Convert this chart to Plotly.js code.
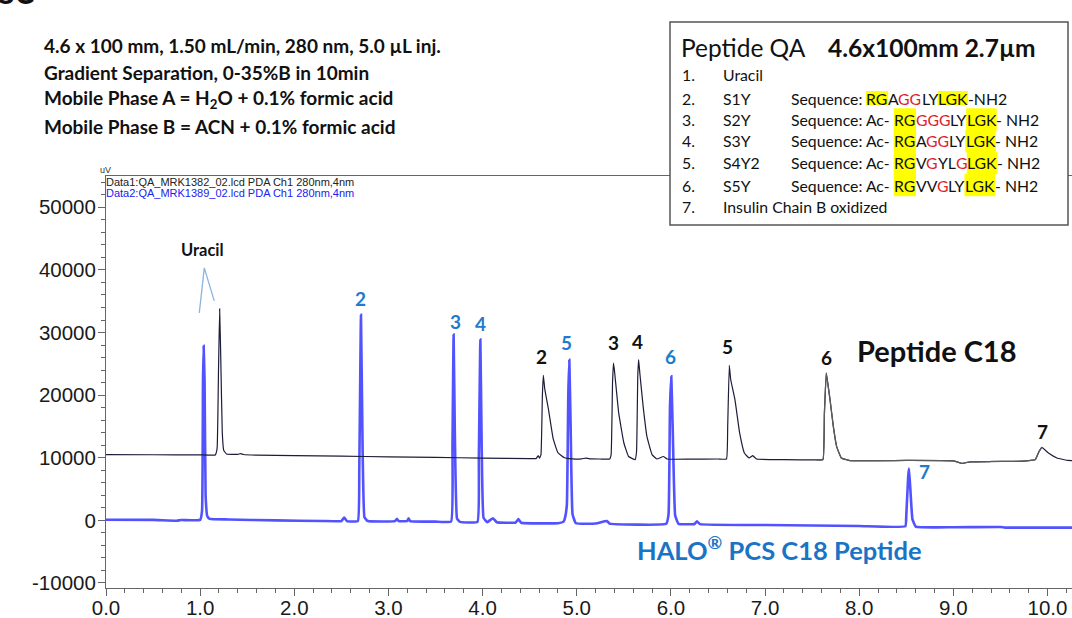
<!DOCTYPE html>
<html>
<head>
<meta charset="utf-8">
<script src="https://cdn.plot.ly/plotly-3.0.1.min.js"></script>
<style>
html,body{margin:0;padding:0;background:#fff;}
#chart{width:1072px;height:618px;}
</style>
</head>
<body>
<div id="chart"></div>
<script>
// ---------------- DATA ----------------
// Peptide C18 chromatogram (Data1), time in min, signal in uV
const c18Time = [0.00,0.50,1.00,1.16,1.18,1.195,1.207,1.22,1.235,1.25,1.28,1.40,1.43,1.46,1.60,2.00,2.50,3.00,3.50,4.00,4.50,4.57,4.59,4.605,4.62,4.635,4.645,4.66,4.70,4.75,4.80,4.87,4.95,5.05,5.10,5.15,5.25,5.35,5.365,5.38,5.39,5.40,5.445,5.50,5.55,5.62,5.635,5.648,5.657,5.67,5.705,5.745,5.80,5.85,5.92,5.96,6.20,6.50,6.59,6.603,6.62,6.635,6.68,6.73,6.78,6.83,6.87,6.91,7.20,7.55,7.615,7.63,7.65,7.665,7.69,7.725,7.76,7.81,7.90,8.50,9.00,9.09,9.18,9.40,9.64,9.80,9.87,9.91,9.94,10.01,10.10,10.21,10.26];
const c18Signal = [10500,10480,10460,10450,11500,24000,33800,25000,14000,11200,10600,10550,10650,10520,10420,10350,10250,10150,10050,9950,9870,9880,10350,9950,10500,20000,23160,21000,17700,13000,10800,10000,9820,9830,9950,9820,9800,9800,10500,22000,25130,24000,17200,12400,10200,9700,11000,23000,25660,23500,18200,13400,10500,9800,10200,9800,9780,9800,9800,15000,24750,22500,19280,13960,10760,9970,10330,9800,9700,9650,9700,17000,23540,22000,19280,15010,11820,9970,9550,9570,9500,9100,9350,9400,9420,9550,9700,11000,11660,10760,9970,9580,9550];

// HALO PCS C18 Peptide chromatogram (Data2)
const haloTime = [0.00,0.50,0.75,0.80,1.00,1.02,1.03,1.037,1.047,1.058,1.075,1.10,1.30,1.80,2.30,2.50,2.53,2.56,2.675,2.69,2.708,2.725,2.745,2.78,3.07,3.09,3.11,3.20,3.214,3.23,3.50,3.665,3.68,3.692,3.705,3.728,3.76,3.945,3.96,3.976,3.99,4.01,4.05,4.11,4.15,4.35,4.38,4.41,4.80,4.86,4.875,4.895,4.91,4.921,4.935,4.955,4.99,5.20,5.32,5.35,5.95,5.975,5.99,6.004,6.02,6.045,6.08,6.25,6.277,6.31,7.00,8.00,8.49,8.50,8.52,8.529,8.545,8.565,8.60,9.00,9.50,9.55,10.00,10.26];
const haloSignal = [100,80,-50,50,80,1500,22000,27900,22000,4000,700,250,150,0,-100,-100,450,-120,-120,8000,32850,12000,500,-100,-120,250,-130,-100,350,-120,-200,-200,12000,29660,14000,300,-250,-250,10000,28860,12000,400,-280,350,-300,-350,200,-380,-450,-200,400,2500,20000,25660,15000,1000,-450,-500,-100,-520,-550,1000,18000,23000,14000,800,-550,-580,-150,-600,-750,-900,-950,800,7000,8260,4500,200,-1000,-1100,-1050,-1150,-1150,-1150];

// Peak labels
const haloPeakNames = ['2','3','4','5','6','7'];
const haloPeakTime  = [2.70,3.71,3.975,4.89,6.00,8.69];
const haloPeakLabelY = [35400,31700,31400,28400,26100,7780];
const c18PeakNames = ['2','3','4','5','6','7'];
const c18PeakTime  = [4.63,5.39,5.65,6.60,7.65,9.95];
const c18PeakLabelY = [26100,28400,28500,27700,26000,14150];

// Axis ticks
const yTickVals = [-10000,0,10000,20000,30000,40000,50000];
const yTickText = ['-10000','0','10000','20000','30000','40000','50000'];

// Condition text lines
const conditionLines = [
  '4.6 x 100 mm, 1.50 mL/min, 280 nm, 5.0 µL inj.',
  'Gradient Separation, 0-35%B in 10min',
  'Mobile Phase A = H<sub>2</sub>O + 0.1% formic acid',
  'Mobile Phase B = ACN + 0.1% formic acid'
];

// Legend-box content
const legendNums  = ['1.','2.','3.','4.','5.','6.','7.'];
const legendNames = ['Uracil','S1Y','S2Y','S3Y','S4Y2','S5Y','Insulin Chain B oxidized'];
// sequence segments: [text, style] style: 'k' plain, 'r' red, 'h' highlighted
const legendSeqs = [
  null,
  [['Sequence: ','k'],['RG','h'],['A','k'],['GG','r'],['LY','k'],['LGK','h'],['-NH2','k']],
  [['Sequence: Ac- ','k'],['RG','h'],['GGG','r'],['LY','k'],['LGK','h'],['- NH2','k']],
  [['Sequence: Ac- ','k'],['RG','h'],['A','k'],['GG','r'],['LY','k'],['LGK','h'],['- NH2','k']],
  [['Sequence: Ac- ','k'],['RG','h'],['V','k'],['G','r'],['YL','k'],['G','r'],['LGK','h'],['- NH2','k']],
  [['Sequence: Ac- ','k'],['RG','h'],['VV','k'],['G','r'],['LY','k'],['LGK','h'],['- NH2','k']],
  null
];

// ---------------- LAYOUT HELPERS ----------------
const W = 1072, H = 618;
const M = {l:106, r:0, t:176, b:30};
const PW = W - M.l - M.r, PH = H - M.t - M.b;
const px = p => (p - M.l) / PW;
const py = p => (H - M.b - p) / PH;

const SANS = 'Lato, "Open Sans", sans-serif';
const ARIAL = '"Liberation Sans", Arial, sans-serif';
const BLUE_TXT = '#1f7bcc';

const ctx = document.createElement('canvas').getContext('2d');
function textW(t, size, weight){ ctx.font = (weight||'normal') + ' ' + size + 'px Lato'; return ctx.measureText(t).width; }

const annotations = [];
const shapes = [];

// truncated slide title
annotations.push({xref:'paper',yref:'paper',x:px(-4),y:py(14),xanchor:'left',yanchor:'bottom',showarrow:false,
  text:'<b>se</b>',font:{family:SANS,size:38,color:'#111'}});

// condition lines
const condY = [46,72.5,99,126];
conditionLines.forEach((t,i)=>{
  annotations.push({xref:'paper',yref:'paper',x:px(42),y:py(condY[i]),xanchor:'left',yanchor:'middle',showarrow:false,
    text:'<b>'+t+'</b>',font:{family:SANS,size:19,color:'#111'}});
});

// data file labels
annotations.push({xref:'paper',yref:'paper',x:px(98),y:py(170),xanchor:'left',yanchor:'middle',showarrow:false,
  text:'uV',font:{family:ARIAL,size:9,color:'#333'}});
annotations.push({xref:'paper',yref:'paper',x:px(104),y:py(181.5),xanchor:'left',yanchor:'middle',showarrow:false,
  text:'Data1:QA_MRK1382_02.lcd PDA Ch1 280nm,4nm',font:{family:ARIAL,size:11,color:'#222'}});
annotations.push({xref:'paper',yref:'paper',x:px(104),y:py(193),xanchor:'left',yanchor:'middle',showarrow:false,
  text:'Data2:QA_MRK1389_02.lcd PDA Ch1 280nm,4nm',font:{family:ARIAL,size:11,color:'#2222ee'}});

// legend box
shapes.push({type:'rect',xref:'paper',yref:'paper',x0:px(670),x1:px(1068),y0:py(22),y1:py(225),
  line:{color:'#555',width:1.5},fillcolor:'#fff',layer:'above'});
annotations.push({xref:'paper',yref:'paper',x:px(679),y:py(47),xanchor:'left',yanchor:'middle',showarrow:false,
  text:'Peptide QA',font:{family:SANS,size:24.5,color:'#111'}});
annotations.push({xref:'paper',yref:'paper',x:px(826),y:py(47),xanchor:'left',yanchor:'middle',showarrow:false,
  text:'<b>4.6x100mm 2.7µm</b>',font:{family:SANS,size:24.5,color:'#111'}});

const rowY = [74,98,119.5,141,163,185,206];
const LFS = 15.8;
const seqX0 = 791;
legendNums.forEach((n,i)=>{
  annotations.push({xref:'paper',yref:'paper',x:px(680),y:py(rowY[i]),xanchor:'left',yanchor:'middle',showarrow:false,
    text:n,font:{family:SANS,size:LFS,color:'#111'}});
  annotations.push({xref:'paper',yref:'paper',x:px(721),y:py(rowY[i]),xanchor:'left',yanchor:'middle',showarrow:false,
    text:legendNames[i],font:{family:SANS,size:LFS,color:'#111'}});
  const seq = legendSeqs[i];
  if(seq){
    let xpos = seqX0;
    const half = (i===1) ? 7 : 11.2;
    seq.forEach(([t,s])=>{
      const w = textW(t, LFS);
      if(s==='h'){
        shapes.push({type:'rect',xref:'paper',yref:'paper',x0:px(xpos-0.5),x1:px(xpos+w+0.5),
          y0:py(rowY[i]-half),y1:py(rowY[i]+half),line:{width:0},fillcolor:'#ffff00',layer:'above'});
      }
      annotations.push({xref:'paper',yref:'paper',x:px(xpos),y:py(rowY[i]),xanchor:'left',yanchor:'middle',showarrow:false,
        borderpad:0,borderwidth:0,text:t.trim(),font:{family:SANS,size:LFS,color:(s==='r')?'#e0202a':'#111'}});
      xpos += w;
    });
  }
});

// chart labels
annotations.push({x:1.025,y:43200,xanchor:'center',yanchor:'middle',showarrow:false,text:'<b>Uracil</b>',
  font:{family:SANS,size:16.5,color:'#111'}});
shapes.push({type:'path',xref:'x',yref:'y',path:'M 0.991,33130 L 1.044,40320 L 1.15,35050',
  line:{color:'#8db3e2',width:1.3},layer:'above'});
haloPeakNames.forEach((n,i)=>{
  annotations.push({x:haloPeakTime[i],y:haloPeakLabelY[i],xanchor:'center',yanchor:'middle',showarrow:false,
    text:'<b>'+n+'</b>',font:{family:SANS,size:19,color:BLUE_TXT}});
});
c18PeakNames.forEach((n,i)=>{
  annotations.push({x:c18PeakTime[i],y:c18PeakLabelY[i],xanchor:'center',yanchor:'middle',showarrow:false,
    text:'<b>'+n+'</b>',font:{family:SANS,size:19,color:'#111'}});
});
annotations.push({x:8.83,y:27100,xanchor:'center',yanchor:'middle',showarrow:false,text:'<b>Peptide C18</b>',
  font:{family:SANS,size:29,color:'#111'}});
annotations.push({x:7.15,y:-4360,xanchor:'center',yanchor:'middle',showarrow:false,text:'<b>HALO<sup>®</sup> PCS C18 Peptide</b>',
  font:{family:SANS,size:25.5,color:'#1a74c6'}});

// the late part of Data1 appears gray in the original export
const grayIdx = c18Time.map((t,i)=>i).filter(i=>c18Time[i]>=7.45 && c18Time[i]<=9.97);

const traces = [
  {x:haloTime,y:haloSignal,type:'scatter',mode:'lines',name:'HALO PCS C18 Peptide',
   line:{color:'rgb(82,82,255)',width:2.6,shape:'spline',smoothing:0.3},hoverinfo:'skip'},
  {x:c18Time,y:c18Signal,type:'scatter',mode:'lines',name:'Peptide C18',
   line:{color:'#1d1d3a',width:1.2,shape:'spline',smoothing:0.3},hoverinfo:'skip'},
  {x:grayIdx.map(i=>c18Time[i]),y:grayIdx.map(i=>c18Signal[i]),type:'scatter',mode:'lines',name:'Peptide C18 (late)',
   line:{color:'#5c5c5c',width:1.3,shape:'spline',smoothing:0.3},hoverinfo:'skip'}
];

const layout = {
  width:W,height:H,margin:M,paper_bgcolor:'#fff',plot_bgcolor:'#fff',showlegend:false,
  xaxis:{range:[0,10.26],dtick:1,tick0:0,tickformat:'.1f',showgrid:false,zeroline:false,
    showline:true,linecolor:'#666',linewidth:1,mirror:true,ticks:'outside',ticklen:7,tickcolor:'#666',
    ticklabelstandoff:-6,
    tickfont:{family:ARIAL,size:20.5,color:'#1a1a1a'},
    minor:{dtick:0.2,tick0:0,ticks:'outside',ticklen:4,tickcolor:'#666'}},
  yaxis:{range:[-10800,55000],tickmode:'array',tickvals:yTickVals,ticktext:yTickText,showgrid:false,zeroline:false,
    showline:true,linecolor:'#666',linewidth:1,ticks:'outside',ticklen:7,tickcolor:'#666',
    ticklabelstandoff:-2,
    tickfont:{family:ARIAL,size:20.5,color:'#1a1a1a'},
    minor:{tickmode:'linear',dtick:2000,tick0:0,ticks:'outside',ticklen:4,tickcolor:'#666'}},
  annotations:annotations,
  shapes:shapes
};

Plotly.newPlot('chart',traces,layout,{displayModeBar:false,staticPlot:true});
</script>
</body>
</html>
